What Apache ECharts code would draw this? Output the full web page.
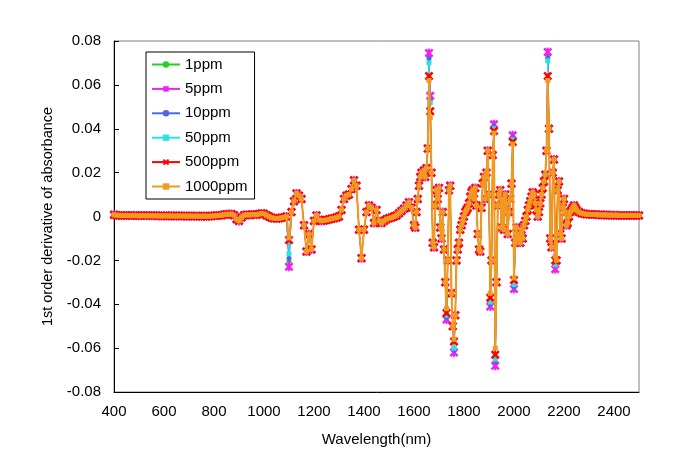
<!DOCTYPE html>
<html>
<head>
<meta charset="utf-8">
<script src="https://cdn.jsdelivr.net/npm/echarts@6/dist/echarts.min.js"></script>
<style>html,body{margin:0;padding:0;background:#fff}#c{width:700px;height:466px}</style>
</head>
<body>
<div id="c"></div>
<script>
// Wavelength sampling (nm)
var wavelengths = [
400,410,420,430,440,450,460,470,480,490,500,510,520,530,540,550,560,570,580,590,
600,610,620,630,640,650,660,670,680,690,700,710,720,730,740,750,760,770,780,790,
800,810,820,830,840,850,860,870,880,890,900,910,920,930,940,950,960,970,980,990,
1000,1010,1020,1030,1040,1050,1060,1070,1080,1090,1100,1110,1120,1130,1140,1150,1160,1170,1180,1190,
1200,1210,1220,1230,1240,1250,1260,1270,1280,1290,1300,1310,1320,1330,1340,1350,1360,1370,1380,1390,
1400,1410,1420,1430,1440,1450,1460,1470,1480,1490,1500,1510,1520,1530,1540,1550,1560,1570,1580,1590,
1600,
1605,1610,1615,1620,1625,1630,1635,1640,1645,1650,1655,1660,1665,1670,1675,1680,1685,1690,1695,1700,
1705,1710,1715,1720,1725,1730,1735,1740,1745,1750,1755,1760,1765,1770,1775,1780,1785,1790,1795,1800,
1805,1810,1815,1820,1825,1830,1835,1840,1845,1850,1855,1860,1865,1870,1875,1880,1885,1890,1895,1900,
1905,1910,1915,1920,1925,1930,1935,1940,1945,1950,1955,1960,1965,1970,1975,1980,1985,1990,1995,2000,
2005,2010,2015,2020,2025,2030,2035,2040,2045,2050,2055,2060,2065,2070,2075,2080,2085,2090,2095,2100,
2105,2110,2115,2120,2125,2130,2135,2140,2145,2150,2155,2160,2165,2170,2175,2180,2185,2190,2195,2200,
2205,2210,2215,2220,2225,2230,2235,2240,2245,2250,
2260,2270,2280,2290,2300,2310,2320,2330,2340,2350,2360,2370,2380,2390,2400,2410,2420,2430,2440,2450,
2460,2470,2480,2490,2500
];

// 1000ppm curve (shared by all series away from the peaks)
var ppm1000 = [
0.0008,0.0006,0.0005,0.0005,0.0004,0.0005,0.0004,0.0004,0.0005,0.0004,0.0003,0.0004,0.0004,0.0003,0.0004,0.0003,0.0004,0.0003,0.0003,0.0002,
0.0003,0.0003,0.0002,0.0003,0.0002,0.0002,0.0003,0.0002,0.0002,0.0001,0.0002,0.0002,0.0001,0.0002,0.0001,0.0001,0.0002,0.0001,0.0001,0.0002,
0.0003,0.0004,0.0005,0.0006,0.0008,0.0010,0.0010,0.0011,0.0006,-0.0012,-0.0020,-0.0005,0.0006,0.0008,0.0007,0.0008,0.0009,0.0008,0.0011,0.0014,
0.0012,0.0006,0.0000,-0.0006,-0.0008,-0.0009,-0.0008,-0.0006,-0.0004,0.0000,-0.0098,0.0020,0.0070,0.0105,0.0095,0.0080,-0.0040,-0.0160,-0.0080,-0.0150,
-0.0020,0.0005,-0.0015,-0.0020,-0.0018,-0.0016,-0.0013,-0.0010,-0.0008,-0.0005,0.0000,0.0030,0.0080,0.0095,0.0100,0.0125,0.0165,0.0140,-0.0060,-0.0190,
-0.0060,0.0020,0.0050,0.0040,-0.0030,0.0030,-0.0020,-0.0030,-0.0020,-0.0012,-0.0008,-0.0005,0.0000,0.0005,0.0015,0.0025,0.0035,0.0050,0.0065,0.0040,
-0.0040,
-0.0050,0.0020,0.0080,0.0140,0.0180,0.0200,0.0190,0.0210,0.0180,0.0220,0.0310,0.0620,0.0450,0.0200,-0.0120,-0.0140,0.0050,0.0120,0.0080,0.0130,
-0.0050,-0.0100,0.0020,-0.0150,-0.0300,-0.0420,-0.0200,0.0120,0.0140,-0.0350,-0.0500,-0.0560,-0.0450,-0.0200,-0.0150,-0.0120,-0.0060,-0.0040,-0.0020,0.0000,
0.0020,0.0030,0.0040,0.0060,0.0090,0.0110,0.0120,0.0080,0.0130,0.0050,-0.0080,-0.0150,-0.0160,0.0040,0.0150,0.0180,0.0080,0.0200,0.0300,0.0100,
-0.0350,-0.0200,0.0280,0.0380,-0.0600,-0.0300,0.0050,0.0100,0.0120,-0.0050,0.0080,-0.0060,0.0100,0.0060,-0.0080,0.0020,0.0080,0.0150,0.0330,-0.0280,
-0.0120,-0.0050,-0.0100,-0.0080,-0.0120,-0.0060,-0.0100,-0.0040,-0.0020,0.0000,0.0030,0.0050,0.0070,0.0090,0.0110,0.0100,0.0060,0.0030,0.0000,0.0020,
0.0060,0.0100,0.0130,0.0160,0.0190,0.0300,0.0620,0.0400,-0.0100,-0.0140,0.0200,0.0260,-0.0180,-0.0200,0.0120,0.0160,-0.0080,-0.0100,0.0040,0.0080,
0.0020,-0.0040,-0.0030,0.0000,0.0020,0.0030,0.0040,0.0050,0.0040,0.0030,
0.0020,0.0015,0.0012,0.0010,0.0010,0.0009,0.0009,0.0008,0.0008,0.0007,0.0007,0.0007,0.0006,0.0006,0.0006,0.0006,0.0005,0.0005,0.0005,0.0005,
0.0005,0.0005,0.0005,0.0005,0.0005
];

// Peak wavelengths where the concentrations separate, and each series' value there
var peakNm   = [1100,    1660,   1665,  1730,   1760,   1905,   1920,  1925,   1995,  2000,   2135,  2165];
var peak1    = [-0.0203, 0.0730, 0.0540, -0.0460, -0.0600, -0.0400, 0.0410, -0.0670, 0.0360, -0.0320, 0.0730, -0.0230];
var peak5    = [-0.0229, 0.0745, 0.0550, -0.0470, -0.0620, -0.0410, 0.0420, -0.0680, 0.0370, -0.0330, 0.0750, -0.0240];
var peak10   = [-0.0190, 0.0720, 0.0530, -0.0460, -0.0610, -0.0400, 0.0410, -0.0660, 0.0360, -0.0320, 0.0720, -0.0220];
var peak50   = [-0.0170, 0.0700, 0.0520, -0.0450, -0.0600, -0.0390, 0.0400, -0.0650, 0.0350, -0.0310, 0.0710, -0.0220];
var peak500  = [-0.0107, 0.0640, 0.0480, -0.0440, -0.0570, -0.0370, 0.0390, -0.0630, 0.0340, -0.0290, 0.0640, -0.0200];

var seriesNames = ['1ppm','5ppm','10ppm','50ppm','500ppm','1000ppm'];
var yTickLabels = ['-0.08','-0.06','-0.04','-0.02','0','0.02','0.04','0.06','0.08'];

function build(peaks) {
  var out = [];
  for (var i = 0; i < wavelengths.length; i++) {
    var k = peaks ? peakNm.indexOf(wavelengths[i]) : -1;
    out.push([wavelengths[i], k >= 0 ? peaks[k] : ppm1000[i]]);
  }
  return out;
}

var XPATH = 'path://M0,2L2,0L5,3L8,0L10,2L7,5L10,8L8,10L5,7L2,10L0,8L3,5Z';
var STARPATH = 'path://M4,0L6,0L6,10L4,10Z M0,2L2,0L5,3L8,0L10,2L7,5L10,8L8,10L5,7L2,10L0,8L3,5Z';
var FONT = 'Liberation Sans, Arial, sans-serif';

var styles = [
  {color:'#1ed41e', symbol:'circle', size:5},
  {color:'#f020f0', symbol:STARPATH, size:9},
  {color:'#4a6ae0', symbol:'circle', size:5},
  {color:'#30e0e0', symbol:'rect', size:5},
  {color:'#ff0000', symbol:XPATH, size:9},
  {color:'#f09a20', symbol:'rect', size:5}
];
var datas = [build(peak1), build(peak5), build(peak10), build(peak50), build(peak500), build(null)];

var series = seriesNames.map(function(n, i){
  var s = styles[i];
  return {
    name: n, type: 'line', xAxisIndex: 0, yAxisIndex: 0,
    data: datas[i],
    symbol: s.symbol, symbolSize: s.size, showSymbol: true, showAllSymbol: true,
    lineStyle: {color: s.color, width: i === 5 ? 2 : 1},
    itemStyle: {color: s.color, borderColor: s.color, borderWidth: 0},
    emphasis: {disabled: true},
    z: 2 + i
  };
});

var chart = echarts.init(document.getElementById('c'), null, {renderer:'canvas'});
chart.setOption({
  animation: false,
  backgroundColor: '#fff',
  grid: {left:114, right:61, top:41, bottom:74, show:true, borderColor:'#808080', borderWidth:1, containLabel:false},
  legend: {
    orient:'vertical', left:146, top:52,
    data: seriesNames,
    itemWidth:28, itemHeight:8, itemGap:9.4,
    padding:[5,7,5,5],
    borderColor:'#000', borderWidth:1, backgroundColor:'#fff',
    textStyle:{fontSize:15, fontFamily:FONT, color:'#000'}
  },
  xAxis: [{
    type:'value', min:400, max:2500, interval:200,
    axisLine:{show:false}, axisTick:{show:false}, splitLine:{show:false},
    axisLabel:{showMaxLabel:false, fontSize:15, fontFamily:FONT, color:'#000', margin:12,
      formatter:function(v){ return String(v); }},
    name:'Wavelength(nm)', nameLocation:'middle', nameGap:40,
    nameTextStyle:{fontSize:15, fontFamily:FONT, color:'#000'}
  },{
    type:'value', min:400, max:2500, position:'bottom',
    axisLine:{show:true, onZero:true, lineStyle:{color:'#000', width:1}},
    axisTick:{show:false}, axisLabel:{show:false}, splitLine:{show:false}
  }],
  yAxis: {
    type:'value', min:-0.08, max:0.08, interval:0.02,
    axisLine:{show:true, onZero:false, lineStyle:{color:'#000', width:1}},
    axisTick:{show:true, inside:true, length:5, lineStyle:{color:'#000'}},
    splitLine:{show:false},
    axisLabel:{fontSize:15, fontFamily:FONT, color:'#000', margin:13,
      formatter:function(v){ var idx = Math.round((v + 0.08) / 0.02); return yTickLabels[idx]; }},
    name:'1st order derivative of absorbance', nameLocation:'middle', nameGap:58, nameRotate:90,
    nameTextStyle:{fontSize:14.5, fontFamily:FONT, color:'#000'}
  },
  series: series
});
</script>
</body>
</html>
